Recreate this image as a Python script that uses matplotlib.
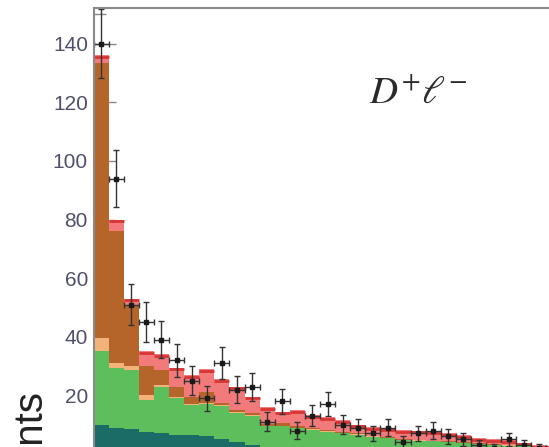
import numpy as np
import matplotlib.pyplot as plt
from matplotlib.ticker import MultipleLocator

# stacked components per bin (bottom to top)
teal = [10, 9, 8.5, 7.5, 7, 6.5, 6.5, 6, 5, 4, 3, 2.5, 2.5, 2.2, 2, 2, 1.8, 1.6, 1.5, 1.4,
        1.3, 1.2, 1.1, 1.0, 0.9, 0.8, 0.8, 0.7, 0.6, 0.5, 0.5]
green = [25, 20.5, 20.2, 11, 16, 12.5, 10.2, 11, 11.5, 10, 10, 7, 7, 6.6, 6.2, 5.6, 5.3, 4.9, 4.4, 3.9,
         3.5, 3.4, 3.2, 3.0, 2.8, 2.6, 2.3, 2.2, 2.0, 1.8, 1.6]
peach = [4.5, 1.5, 1.3, 1.5, 0.5, 0.6, 0.3, 0.5, 0.3, 0.3, 0.2, 0.2, 0.2, 0.2, 0.2, 0.2, 0.2, 0.2, 0.1, 0.1,
         0.1, 0.1, 0.1, 0.1, 0.1, 0.1, 0.1, 0.1, 0.1, 0.1, 0.1]
brown = [94, 45, 20.5, 10, 5, 3.4, 2.6, 3.5, 0.7, 0.7, 0.8, 0.5, 0.8, 0.5, 0.6, 0.4, 0.3, 0.3, 0.3, 0.3,
         0.2, 0.2, 0.2, 0.2, 0.2, 0.1, 0.1, 0.1, 0.1, 0.1, 0.1]
pink = [2.5, 4, 2.5, 5, 5.5, 6.5, 7.4, 8, 8, 8, 5.6, 5.8, 4, 5.5, 4.3, 4.5, 4, 3, 2.8, 3.1,
        3.1, 3.1, 3.0, 2.8, 2.5, 1.7, 1.7, 1.7, 1.1, 0.6, 0.6]

data = [140, 94, 51, 45, 39, 32, 25, 19, 31, 22, 23, 11, 18, 8, 13, 17, 10, 9, 7, 9,
        4, 7, 8, 6, 5, 3, 2, 5, 3, 2, 2]

colors = ["#1b6b66", "#5cbf5c", "#f2b27a", "#b5652a", "#f27a7a"]

edges = np.arange(len(data) + 1)
centers = edges[:-1] + 0.5

fig = plt.figure(figsize=(5.49, 4.47), dpi=100)
W, H = 549, 447
ax = fig.add_axes([93.5 / W, 1 - 454 / H, 31 * 15.1 / W, 446 / H])
ax.set_axisbelow(True)

bottom = np.zeros(len(data))
for comp, c in zip([teal, green, peach, brown, pink], colors):
    comp = np.array(comp, dtype=float)
    ax.stairs(bottom + comp, edges, baseline=bottom, fill=True, color=c, linewidth=0)
    bottom = bottom + comp

# darker red edge along the top of the stack
ax.hlines(bottom - 0.6, edges[:-1], edges[1:], color="#d83434", linewidth=2.0)

d = np.array(data, dtype=float)
ax.errorbar(centers, d, yerr=np.sqrt(d), xerr=0.5, fmt="s", ms=2.5, color="#1a1a1a",
            ecolor="#333333", elinewidth=1.0, capsize=2, capthick=1.0)

ax.set_xlim(0, 31)
ax.set_ylim(0, 152.2)
ax.yaxis.set_major_locator(MultipleLocator(20))
ax.yaxis.set_minor_locator(MultipleLocator(10))
ax.tick_params(axis="y", which="major", direction="in", length=16, width=1, color="#888888",
               labelsize=15, labelcolor="#50506e", pad=4)
ax.tick_params(axis="y", which="minor", direction="in", length=8.5, width=1, color="#888888")
ax.tick_params(axis="x", bottom=False, labelbottom=False)
for s in ["top", "left"]:
    ax.spines[s].set_color("#8a8a8a")
    ax.spines[s].set_linewidth(1.5)
ax.spines["right"].set_visible(False)
ax.spines["bottom"].set_visible(False)
for lab in ax.get_yticklabels():
    lab.set_fontfamily("Liberation Sans")

plt.rcParams["mathtext.fontset"] = "stix"
ax.text(0.693, 0.812, r"$D^{+}\ell^{-}$", transform=ax.transAxes, fontsize=28,
        ha="center", va="center", color="#2a2a2a")

fig.text(0.052, 1 - 388 / H, "Events", rotation=90, ha="center", va="top",
         fontsize=29, family="Liberation Sans", color="#222222")

fig.savefig("out.png", dpi=100)
